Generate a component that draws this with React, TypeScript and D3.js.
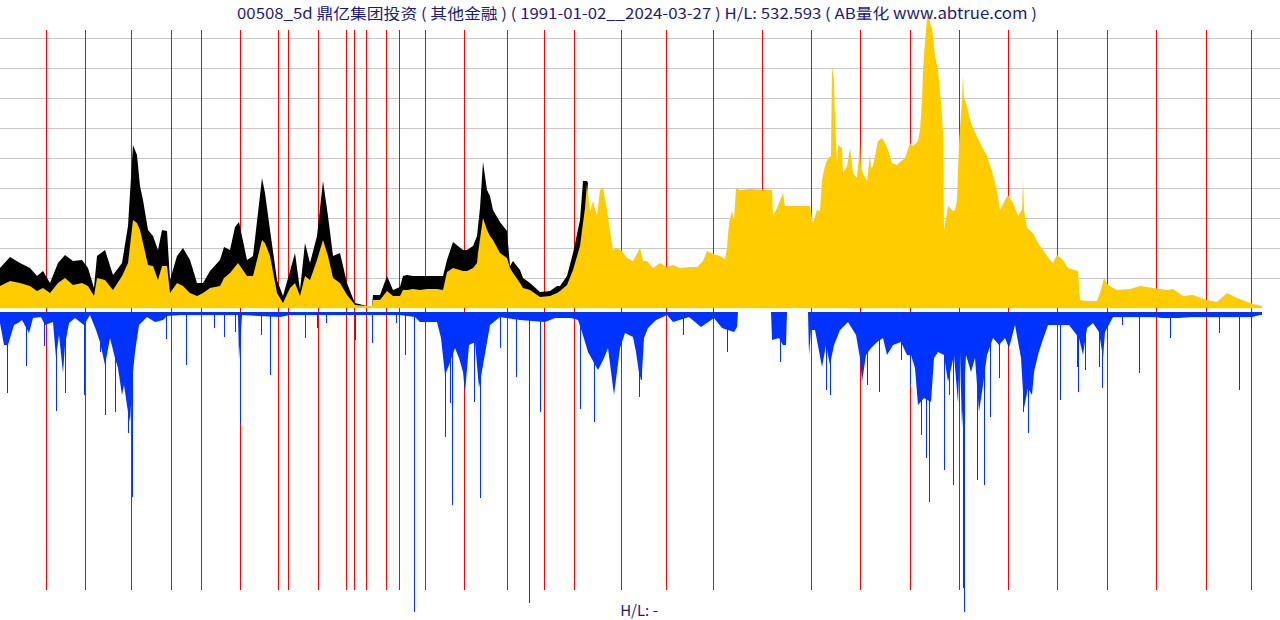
import React from "react";
import * as d3 from "d3";

// ---- data (x = bar index, values in chart units) ----
const TITLE = "00508_5d 鼎亿集团投资 ( 其他金融 )  ( 1991-01-02__2024-03-27 ) H/L: 532.593 ( AB量化  www.abtrue.com )";
const FOOTER = "H/L: -";
const BAR_COUNT = 1262;

const closeSeries: [number, number][] = [
  [0,22],[10,27],[20,25],[30,22],[37,17],[43,20],[50,15],[58,25],[65,30],[73,23],[82,25],[88,22],[94,12],[97,30],[105,28],[113,18],[122,32],[128,45],[133,88],[137,85],[140,78],[143,65],[148,43],[153,42],[158,28],[162,42],[167,42],[170,15],[177,25],[183,22],[190,15],[197,12],[203,15],[210,20],[220,22],[224,30],[230,35],[238,45],[247,32],[253,32],[262,68],[265,65],[270,52],[277,15],[283,5],[290,20],[295,25],[300,12],[305,32],[310,28],[317,48],[323,68],[328,52],[333,30],[340,25],[347,13],[352,7],[355,3],[367,2],[372,2],[373,8],[380,8],[387,17],[393,12],[400,12],[403,18],[407,18],[413,19],[420,18],[427,19],[437,19],[443,18],[447,36],[453,40],[463,37],[467,37],[473,40],[477,45],[478,55],[483,90],[487,78],[490,72],[493,68],[500,55],[507,50],[510,40],[513,35],[520,25],[523,20],[530,18],[540,11],[550,12],[557,15],[560,17],[567,23],[573,38],[580,62],[583,85],[585,100],[587,125],[590,97],[593,107],[597,92],[600,118],[603,120],[607,98],[610,77],[613,58],[617,60],[622,57],[627,50],[633,47],[640,60],[643,47],[647,47],[653,40],[660,45],[667,41],[673,43],[680,40],[690,41],[697,41],[703,47],[707,57],[713,54],[720,52],[725,49],[727,60],[729,85],[732,97],[734,88],[736,120],[740,118],[750,119],[770,118],[772,118],[773,92],[777,100],[783,115],[785,102],[787,102],[810,102],[812,90],[813,85],[817,98],[820,97],[822,128],[825,142],[828,150],[831,152],[832,242],[834,227],[835,188],[837,145],[838,163],[842,160],[843,135],[847,142],[850,160],[853,135],[857,130],[860,165],[861,140],[863,135],[867,127],[868,135],[870,154],[871,140],[873,142],[878,167],[882,170],[885,165],[888,158],[892,145],[897,143],[900,146],[905,150],[910,165],[913,162],[918,167],[920,178],[922,207],[923,238],[925,266],[927,290],[928,300],[930,285],[932,280],[935,252],[938,238],[941,205],[943,175],[944,78],[948,102],[953,97],[955,98],[957,108],[959,165],[962,208],[963,233],[964,210],[967,202],[970,188],[973,180],[980,165],[987,152],[992,137],[997,117],[1000,98],[1005,108],[1008,113],[1013,105],[1018,92],[1022,98],[1023,128],[1024,98],[1027,80],[1033,75],[1038,65],[1043,58],[1050,48],[1053,45],[1057,53],[1063,48],[1068,40],[1078,37],[1080,8],[1087,7],[1097,7],[1100,15],[1104,30],[1108,23],[1117,18],[1130,19],[1140,22],[1153,20],[1167,18],[1173,19],[1183,12],[1193,13],[1207,8],[1217,6],[1227,15],[1237,10],[1250,5],[1253,4],[1262,2]
];

const highSeries: [number, number][] = [
  [0,40],[10,51],[20,45],[30,40],[37,32],[43,37],[50,25],[58,45],[65,53],[73,47],[82,48],[88,40],[94,20],[97,52],[105,58],[113,33],[122,45],[128,82],[133,163],[137,153],[140,122],[143,108],[148,78],[153,72],[158,58],[162,78],[167,77],[170,28],[177,52],[183,60],[190,48],[197,25],[203,25],[210,37],[220,48],[224,61],[230,58],[235,81],[239,86],[247,48],[253,52],[262,130],[265,115],[270,78],[277,28],[283,12],[290,37],[295,55],[300,18],[305,65],[310,45],[317,72],[323,127],[328,92],[333,52],[340,55],[347,25],[352,12],[355,5],[367,2],[372,2],[373,13],[380,13],[387,32],[393,18],[400,21],[403,32],[407,33],[413,32],[420,32],[437,32],[443,32],[447,48],[453,66],[463,58],[467,58],[473,62],[477,72],[480,100],[483,146],[487,118],[490,112],[493,98],[500,86],[507,77],[510,42],[513,47],[520,38],[523,30],[530,25],[540,16],[550,17],[557,22],[560,22],[567,32],[573,55],[580,88],[583,127],[585,127],[587,127],[588,125]
];

const volumeBody: [number, number][] = [
  [0,11],[4,33],[8,33],[10,26],[14,13],[18,11],[22,8],[29,21],[33,6],[41,5],[45,13],[53,10],[56,46],[59,23],[63,61],[65,33],[69,11],[75,6],[84,13],[90,3],[96,18],[100,30],[105,53],[110,26],[115,46],[118,56],[122,83],[124,73],[128,100],[130,110],[133,60],[135,40],[139,13],[147,5],[155,10],[163,8],[167,4],[180,3],[200,3],[238,3],[239,48],[242,3],[280,5],[290,3],[330,3],[360,3],[380,3],[400,3],[415,5],[420,10],[437,10],[441,26],[445,63],[449,53],[455,36],[459,46],[463,60],[465,81],[469,33],[475,30],[479,76],[486,36],[490,13],[500,5],[506,6],[520,8],[545,10],[555,6],[571,6],[578,8],[582,20],[588,40],[598,58],[604,46],[608,36],[614,83],[620,36],[625,21],[633,25],[636,40],[640,68],[642,60],[644,26],[648,16],[656,8],[667,3],[673,10],[689,5],[701,15],[714,6],[722,16],[734,20],[737,15],[738,0],[771,0],[772,28],[779,26],[783,33],[786,33],[787,0],[808,0],[809,43],[811,18],[815,18],[822,55],[826,33],[830,53],[834,33],[840,18],[848,10],[856,23],[860,46],[862,70],[866,43],[871,36],[877,30],[883,26],[887,43],[893,33],[901,30],[907,43],[911,43],[915,56],[918,93],[924,86],[931,90],[934,46],[938,40],[944,43],[948,70],[954,43],[958,91],[960,40],[962,116],[966,43],[971,60],[975,46],[979,100],[983,73],[987,43],[993,26],[999,33],[1005,26],[1009,36],[1015,13],[1021,46],[1024,96],[1028,76],[1032,83],[1034,60],[1038,43],[1042,30],[1048,13],[1058,13],[1069,13],[1079,26],[1083,43],[1087,16],[1093,11],[1099,20],[1103,46],[1105,20],[1113,5],[1154,5],[1162,6],[1179,6],[1191,5],[1252,5],[1260,3],[1262,3]
];

const volumeSpikes: [number, number][] = [
  [7,81],[26,54],[44,34],[56,99],[65,81],[84,83],[100,40],[105,103],[115,100],[128,121],[132,185],[166,27],[186,53],[214,16],[224,25],[235,20],[240,112],[261,23],[270,63],[305,26],[317,16],[326,11],[355,28],[372,31],[396,11],[405,43],[414,300],[445,125],[450,91],[452,193],[474,90],[480,186],[500,36],[516,65],[529,291],[540,100],[580,97],[594,110],[639,85],[641,68],[683,23],[727,40],[780,50],[826,78],[830,83],[867,73],[879,80],[901,48],[910,73],[921,123],[926,146],[929,190],[944,158],[949,83],[953,173],[963,276],[964,300],[977,168],[984,173],[990,105],[999,66],[1023,100],[1028,121],[1060,88],[1077,55],[1078,80],[1085,58],[1099,55],[1102,76],[1122,13],[1139,61],[1170,26],[1219,21],[1239,78],[1251,16]
];

const yearStarts: number[] = [46,85,131,171,201,240,278,288,318,346,354,366,386,399,425,464,507,544,574,621,666,713,762,811,860,910,959,1008,1057,1107,1156,1206,1251];
const suspendedRanges: [number, number][] = [[738,771],[787,808]];
const gridValues: number[] = [30,60,90,120,150,180,210,240,270];

export default function App() {
  const W = 1280, H = 620;
  const x = d3.scaleLinear().domain([0, BAR_COUNT]).range([0, 1262]);
  const y = d3.scaleLinear().domain([0, 300]).range([308, 8]);
  const v = d3.scaleLinear().domain([0, 300]).range([312, 612]);

  const priceArea = d3.area<[number, number]>()
    .x(d => x(d[0])).y0(y(0)).y1(d => y(d[1])).curve(d3.curveLinear);
  const volArea = d3.area<[number, number]>()
    .x(d => x(d[0])).y0(v(0)).y1(d => v(d[1])).curve(d3.curveLinear);

  const inGap = (i: number) => suspendedRanges.some(([a, b]) => i >= a && i <= b);
  const textColor = "#1c1c78";
  const font = "'Noto Sans CJK SC', 'DejaVu Sans', sans-serif";

  return (
    <svg width={W} height={H} style={{ position: "absolute", left: 0, top: 0, background: "#fff" }}>
      <rect x={0} y={0} width={W} height={H} fill="#fff" />
      {gridValues.map(g => (
        <line key={g} x1={0} x2={W} y1={Math.round(y(g)) + 0.5} y2={Math.round(y(g)) + 0.5}
          stroke="#c8c8c8" strokeWidth={1} />
      ))}
      {yearStarts.map(i => {
        const px = Math.round(x(i)) + 0.5;
        return (
          <line key={i} x1={px} x2={px} y1={30} y2={inGap(i) ? y(0) : 590}
            stroke="#ff0000" strokeWidth={1} shapeRendering="crispEdges" />
        );
      })}
      <path d={priceArea(highSeries) || ""} fill="#000000" />
      <path d={priceArea(closeSeries) || ""} fill="#ffcc00" />
      <path d={volArea(volumeBody) || ""} fill="#0033ff" />
      {volumeSpikes.map(([i, d]) => (
        <rect key={i} x={Math.round(x(i))} y={v(0)} width={1} height={v(d) - v(0)} fill="#0033ff" />
      ))}
      <text x={637} y={19} textAnchor="middle" fontFamily={font} fontSize={15} fill={textColor}
        textLength={800} lengthAdjust="spacingAndGlyphs">{TITLE}</text>
      <text x={639} y={616} textAnchor="middle" fontFamily={font} fontSize={15} fill={textColor}>{FOOTER}</text>
    </svg>
  );
}
